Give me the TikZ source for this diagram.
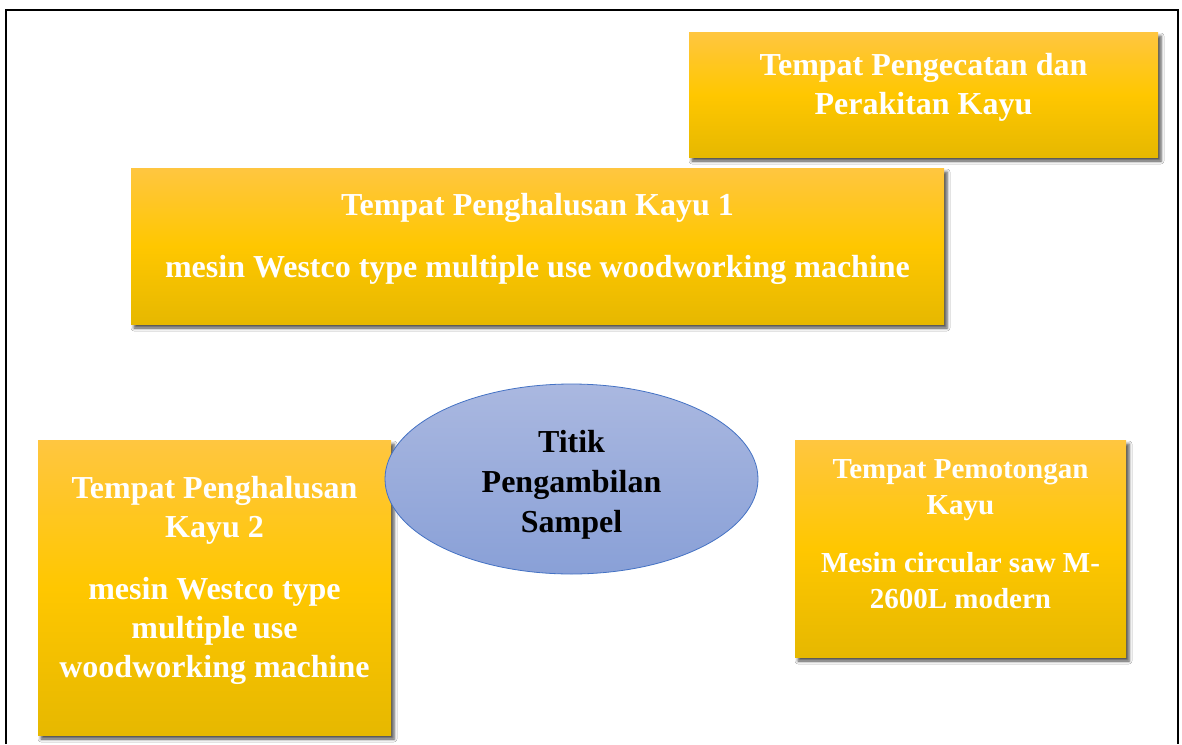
\documentclass[tikz,border=0pt]{standalone}
\usepackage{fontspec}
\setmainfont{Liberation Serif}
\usetikzlibrary{shapes.geometric,shadows.blur}

\definecolor{goldtop}{RGB}{255,198,64}
\definecolor{goldmid}{RGB}{255,199,0}
\definecolor{goldbot}{RGB}{230,184,0}
\definecolor{bluetop}{RGB}{170,184,224}
\definecolor{bluebot}{RGB}{137,160,215}
\definecolor{blueline}{RGB}{68,114,196}

\tikzset{
  goldbox/.style={rectangle, draw=none, inner sep=0pt,
    top color=goldtop, bottom color=goldbot, middle color=goldmid,
    blur shadow={shadow xshift=3pt, shadow yshift=-4pt,
      shadow blur radius=3pt, shadow opacity=70}},
  boxtext/.style={text=white, font=\bfseries\fontsize{32}{39}\selectfont,
    align=center, inner sep=0pt},
  smalltext/.style={boxtext, font=\bfseries\fontsize{29}{36}\selectfont},
  hub/.style={ellipse, draw=blueline, line width=0.8pt, inner sep=0pt,
    top color=bluetop, bottom color=bluebot},
  hubtext/.style={text=black, font=\bfseries\fontsize{32}{40}\selectfont,
    align=center, inner sep=0pt}
}

\begin{document}
\begin{tikzpicture}[x=1pt, y=-1pt]
  \useasboundingbox (0,0) rectangle (1182,744);
  \fill[white] (0,0) rectangle (1182,744);

  % outer frame (open at the bottom edge of the page)
  \draw[line width=2.2pt] (6,744) -- (6,10) -- (1178,10) -- (1178,744);

  % painting and assembly area
  \node[goldbox, minimum width=469pt, minimum height=125pt] (paint) at (923.5,94.5) {};
  \node[boxtext] (painttxt) at (923.5,87) {Tempat Pengecatan dan\\Perakitan Kayu};

  % smoothing area 1
  \node[goldbox, minimum width=813pt, minimum height=156pt] (smooth1) at (537.5,246) {};
  \node[boxtext] (smooth1txt) at (537.5,239)
    {Tempat Penghalusan Kayu 1\\[23pt]mesin Westco type multiple use woodworking machine};

  % smoothing area 2
  \node[goldbox, minimum width=353pt, minimum height=295pt] (smooth2) at (214.5,587.5) {};
  \node[boxtext] (smooth2txt) at (214.5,580.5)
    {Tempat Penghalusan\\Kayu 2\\[23pt]mesin Westco type\\multiple use\\woodworking machine};

  % cutting area
  \node[goldbox, minimum width=331pt, minimum height=217pt] (cut) at (960.5,548.5) {};
  \node[smalltext] (cuttxt) at (960.5,534.5)
    {Tempat Pemotongan\\Kayu\\[22pt]Mesin circular saw M-\\2600L modern};

  % sampling point
  \node[hub, minimum width=373pt, minimum height=190pt] (sample) at (571.5,479) {};
  \node[hubtext] (sampletxt) at (571.5,485) {Titik\\Pengambilan\\Sampel};
\end{tikzpicture}
\end{document}
